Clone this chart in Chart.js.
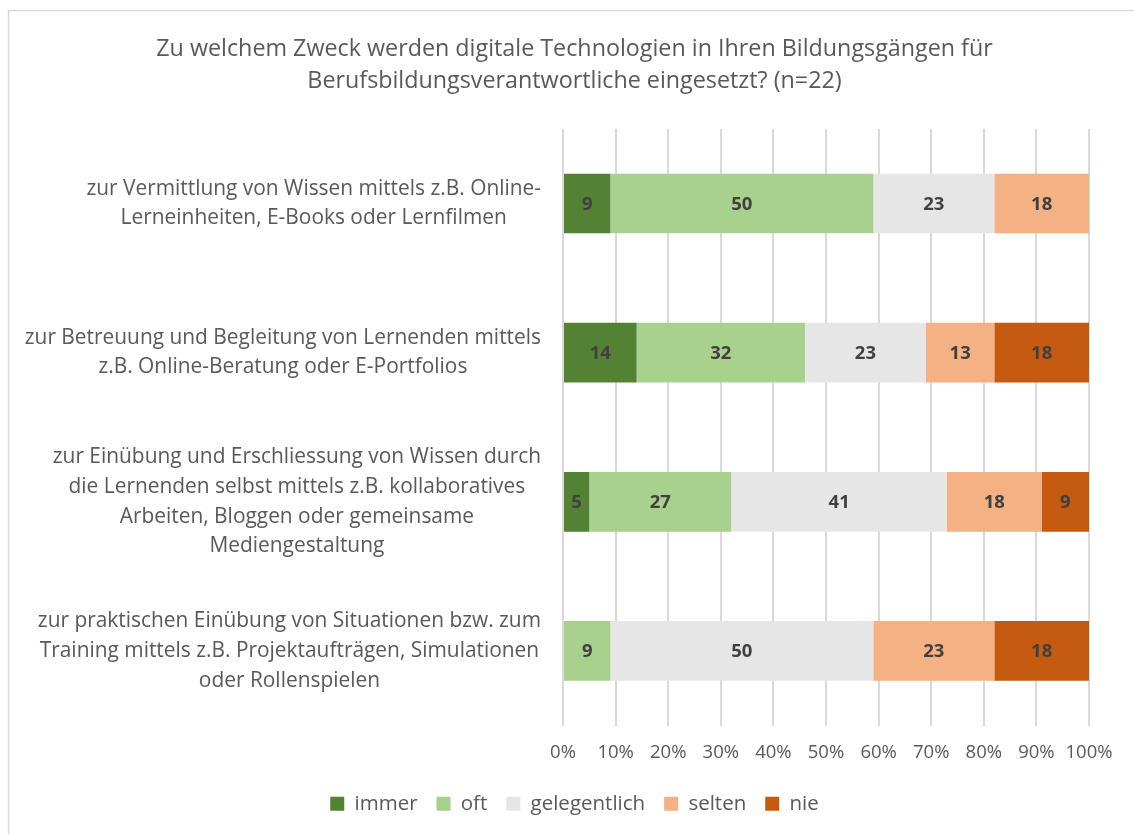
<!DOCTYPE html>
<html>
<head>
<meta charset="utf-8">
<script src="https://cdn.jsdelivr.net/npm/chart.js@4.4.0/dist/chart.umd.min.js"></script>
<style>
  html, body { margin: 0; padding: 0; background: #fff; }
  #wrap { width: 1134px; height: 834px; position: relative; }
</style>
</head>
<body>
<div id="wrap"><canvas id="chart" width="1134" height="834"></canvas></div>
<script>
// Kategorien (mehrzeilig wie im Original)
const categories = [
  ['zur Vermittlung von Wissen mittels z.B. Online-', 'Lerneinheiten, E-Books oder Lernfilmen'],
  ['zur Betreuung und Begleitung von Lernenden mittels', 'z.B. Online-Beratung oder E-Portfolios'],
  ['zur Einübung und Erschliessung von Wissen durch', 'die Lernenden selbst mittels z.B. kollaboratives', 'Arbeiten, Bloggen oder gemeinsame', 'Mediengestaltung'],
  ['zur praktischen Einübung von Situationen bzw. zum', 'Training mittels z.B. Projektaufträgen, Simulationen', 'oder Rollenspielen']
];
const seriesNames = ['immer', 'oft', 'gelegentlich', 'selten', 'nie'];
const immer = [9, 14, 5, 0];
const oft = [50, 32, 27, 9];
const gelegentlich = [23, 23, 41, 50];
const selten = [18, 13, 18, 23];
const nie = [0, 18, 9, 18];
const tickLabels = ['0%', '10%', '20%', '30%', '40%', '50%', '60%', '70%', '80%', '90%', '100%'];

const colors = ['#548235', '#A9D18E', '#E7E6E6', '#F4B183', '#C55A11'];
const FONT = "'Open Sans', sans-serif";
const TEXT = '#595959';

// Rahmen um das Diagramm
const framePlugin = {
  id: 'frame',
  beforeDraw(chart) {
    const ctx = chart.ctx;
    ctx.save();
    ctx.strokeStyle = '#d9d9d9';
    ctx.lineWidth = 1.5;
    ctx.strokeRect(8.5, 10.5, 1200, 900);
    ctx.restore();
  }
};

// Kategorienbeschriftung: jeder Block zentriert, rechtsbündig am Achsenrand
const catLabelPlugin = {
  id: 'catLabels',
  afterDraw(chart) {
    const ctx = chart.ctx;
    const y = chart.scales.y;
    const right = chart.chartArea.left - 22;
    const lh = 29.7;
    ctx.save();
    ctx.font = '20.9px ' + FONT;
    ctx.fillStyle = TEXT;
    ctx.textAlign = 'center';
    ctx.textBaseline = 'middle';
    categories.forEach((lines, i) => {
      const w = Math.max(...lines.map(l => ctx.measureText(l).width));
      const cx = right - w / 2;
      const cy = y.getPixelForValue(i);
      const y0 = cy - (lines.length - 1) * lh / 2;
      lines.forEach((l, k) => ctx.fillText(l, cx, y0 + k * lh));
    });
    ctx.restore();
  }
};

// Werte in den Balken
const valueLabelPlugin = {
  id: 'valueLabels',
  afterDatasetsDraw(chart) {
    const ctx = chart.ctx;
    ctx.save();
    ctx.font = 'bold 18.5px ' + FONT;
    ctx.fillStyle = '#404040';
    ctx.textAlign = 'center';
    ctx.textBaseline = 'middle';
    chart.data.datasets.forEach((ds, di) => {
      chart.getDatasetMeta(di).data.forEach((bar, i) => {
        const v = ds.data[i];
        if (!v) return;
        const p = bar.getCenterPoint();
        ctx.fillText(String(v), p.x, p.y + 1);
      });
    });
    ctx.restore();
  }
};

const seriesData = [immer, oft, gelegentlich, selten, nie];

new Chart(document.getElementById('chart').getContext('2d'), {
  type: 'bar',
  data: {
    labels: categories.map(c => c.join(' ')),
    datasets: seriesNames.map((name, i) => ({
      label: name,
      data: seriesData[i],
      backgroundColor: colors[i],
      borderWidth: 0,
      barPercentage: 0.4,
      categoryPercentage: 1
    }))
  },
  options: {
    indexAxis: 'y',
    responsive: false,
    animation: false,
    devicePixelRatio: 1,
    layout: { padding: { left: 60, right: 45, top: 0, bottom: 10 } },
    scales: {
      x: {
        stacked: true,
        min: 0,
        max: 100,
        ticks: {
          stepSize: 10,
          padding: 16,
          autoSkip: false,
          maxRotation: 0,
          minRotation: 0,
          color: TEXT,
          font: { family: FONT, size: 18.5 },
          callback: (v, i) => tickLabels[i]
        },
        grid: { color: '#d9d9d9', lineWidth: 2, drawTicks: false },
        border: { display: false },
        afterFit(scale) { scale.height = 49; }
      },
      y: {
        stacked: true,
        ticks: { display: false },
        grid: { display: false },
        border: { display: false },
        afterFit(scale) { scale.width = 503; }
      }
    },
    plugins: {
      title: {
        display: true,
        text: ['Zu welchem Zweck werden digitale Technologien in Ihren Bildungsgängen für',
               'Berufsbildungsverantwortliche eingesetzt? (n=22)'],
        color: TEXT,
        font: { family: FONT, size: 23.3, weight: 'normal', lineHeight: 1.373 },
        padding: { top: 33, bottom: 32 }
      },
      legend: {
        position: 'bottom',
        labels: {
          boxWidth: 14,
          boxHeight: 14,
          padding: 19,
          color: TEXT,
          font: { family: FONT, size: 20.5 }
        }
      },
      tooltip: { enabled: false }
    }
  },
  plugins: [framePlugin, catLabelPlugin, valueLabelPlugin]
});
</script>
</body>
</html>
